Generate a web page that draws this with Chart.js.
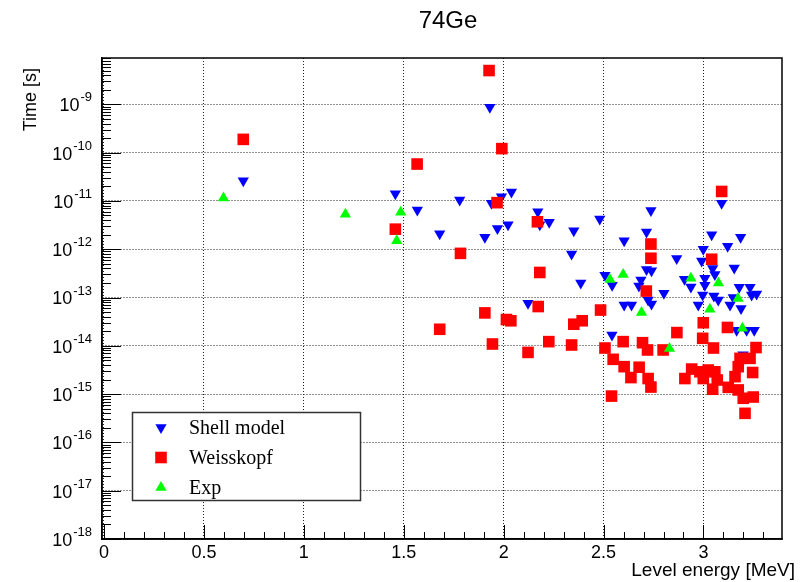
<!DOCTYPE html>
<html>
<head>
<meta charset="utf-8">
<script src="https://cdn.jsdelivr.net/npm/chart.js@4.4.0/dist/chart.umd.min.js"></script>
<style>
  html, body { margin: 0; padding: 0; background: #fff; }
  #wrap { width: 806px; height: 582px; }
</style>
</head>
<body>
<div id="wrap"><canvas id="chart" width="806" height="582"></canvas></div>
<script>
// --- data ---
const titleText = "74Ge";
const xTitle = "Level energy [MeV]";
const yTitle = "Time [s]";

const xTickValues = [0, 0.5, 1, 1.5, 2, 2.5, 3];
const xTickLabels = ["0", "0.5", "1", "1.5", "2", "2.5", "3"];
const yTickValues = [1e-18, 1e-17, 1e-16, 1e-15, 1e-14, 1e-13, 1e-12, 1e-11, 1e-10, 1e-9];
const yTickExps = ["-18", "-17", "-16", "-15", "-14", "-13", "-12", "-11", "-10", "-9"];

const seriesNames = ["Shell model", "Weisskopf", "Exp"];

const shellX = [0.697, 1.458, 1.568, 1.680, 1.931, 1.780, 1.906, 1.939, 1.989, 2.039, 1.969, 2.022, 2.171, 2.181, 2.228, 2.351,
  2.340, 2.122, 2.386, 2.481, 2.507, 2.542, 2.737, 2.715, 2.603, 2.866, 2.543, 2.715, 2.740, 2.687, 2.677, 2.802,
  2.723, 2.740, 2.603, 2.640, 2.905, 2.937, 3.091, 3.041, 3.186, 3.121, 2.999, 2.991, 3.046, 3.154, 3.057, 3.007,
  3.007, 2.996, 2.974, 3.052, 3.074, 3.133, 3.179, 3.149, 3.188, 3.233, 3.241, 3.266, 3.166, 3.216, 3.254, 3.198];
const shellY = [2.6e-11, 1.4e-11, 6.5e-12, 2.1e-12, 8.7e-10, 1.04e-11, 1.76e-12, 8.9e-12, 1.22e-11, 1.53e-11, 2.7e-12, 3.2e-12, 6.0e-12, 3.2e-12, 3.6e-12, 2.4e-12,
  8.0e-13, 7.6e-14, 2.0e-13, 4.2e-12, 2.9e-13, 1.67e-14, 6.3e-12, 2.27e-12, 1.5e-12, 6.4e-13, 1.8e-13, 3.8e-13, 3.6e-13, 2.3e-13, 1.73e-13, 1.22e-13,
  8.9e-14, 7.3e-14, 7.0e-14, 7.0e-14, 2.4e-13, 1.65e-13, 9.0e-12, 2.0e-12, 1.76e-12, 1.15e-12, 1.0e-12, 5.7e-13, 4.0e-13, 4.1e-13, 3.0e-13, 2.5e-13,
  1.8e-13, 1.13e-13, 7.0e-14, 1.07e-13, 8.9e-14, 7.0e-14, 1.63e-13, 1.0e-13, 5.9e-14, 1.63e-13, 1.13e-13, 1.18e-13, 2.1e-14, 2.1e-14, 2.1e-14, 6.5e-15];

const weissX = [0.697, 1.567, 1.458, 1.680, 1.927, 1.991, 1.967, 2.169, 1.784, 2.181, 1.906, 2.173, 2.014, 2.036, 1.944, 2.122,
  2.226, 2.340, 2.351, 2.393, 2.485, 2.507, 2.737, 2.737, 2.714, 2.867, 2.598, 2.695, 2.720, 2.798, 2.548, 2.603,
  2.678, 2.637, 2.723, 2.737, 2.540, 2.941, 2.907, 3.091, 3.041, 2.999, 3.120, 2.996, 3.050, 3.263, 3.233, 3.183,
  3.174, 3.158, 3.246, 3.124, 3.174, 3.199, 3.249, 3.208, 2.982, 3.024, 3.057, 2.999, 3.069, 3.046];
const weissY = [1.88e-10, 5.8e-11, 2.6e-12, 2.2e-14, 5.0e-9, 1.21e-10, 9.2e-12, 3.7e-12, 8.2e-13, 3.3e-13, 4.8e-14, 6.5e-14, 3.5e-14, 3.3e-14, 1.09e-14, 7.3e-15,
  1.22e-14, 1.04e-14, 2.8e-14, 3.3e-14, 5.5e-14, 9.0e-15, 1.28e-12, 6.5e-13, 1.36e-13, 1.88e-14, 1.22e-14, 1.16e-14, 8.2e-15, 8.2e-15, 5.25e-15, 3.7e-15,
  3.6e-15, 2.2e-15, 2.1e-15, 1.4e-15, 9.1e-16, 3.3e-15, 2.1e-15, 1.57e-11, 6.2e-13, 3.0e-14, 2.4e-14, 1.43e-14, 9.0e-15, 9.2e-15, 5.5e-15, 5.5e-15,
  3.7e-15, 2.3e-15, 2.8e-15, 1.38e-15, 1.22e-15, 8.2e-16, 8.7e-16, 4.0e-16, 2.9e-15, 3.15e-15, 2.9e-15, 2.1e-15, 1.96e-15, 1.26e-15];

const expX = [0.598, 1.208, 1.485, 1.465, 2.532, 2.598, 2.690, 2.830, 2.937, 3.075, 3.032, 3.173, 3.195];
const expY = [1.15e-11, 5.3e-12, 5.8e-12, 1.5e-12, 2.36e-13, 3.0e-13, 4.9e-14, 8.8e-15, 2.5e-13, 2.0e-13, 5.7e-14, 9.5e-14, 2.3e-14];

const toPoints = (xs, ys) => xs.map((x, i) => ({ x: x, y: ys[i] }));

const sansFont = '"Liberation Sans", Arial, Helvetica, sans-serif';
const serifFont = '"Liberation Serif", "Times New Roman", serif';

// draw a marker the same way chart.js does (rect / triangle)
function drawMarker(ctx, ds, x, y) {
  ctx.save();
  ctx.fillStyle = ds.backgroundColor;
  ctx.beginPath();
  const r = ds.pointRadius;
  if (ds.pointStyle === "rect") {
    const s = r * Math.SQRT1_2;
    ctx.rect(x - s, y - s, 2 * s, 2 * s);
  } else {
    const rot = (ds.rotation || 0) * Math.PI / 180;
    for (let i = 0; i < 3; i++) {
      const a = rot + i * 2 * Math.PI / 3;
      const px = x + Math.sin(a) * r;
      const py = y - Math.cos(a) * r;
      if (i === 0) ctx.moveTo(px, py); else ctx.lineTo(px, py);
    }
    ctx.closePath();
  }
  ctx.fill();
  ctx.restore();
}

// frame, inside ticks (ROOT style), axis labels and titles
const rootAxes = {
  id: "rootAxes",
  beforeDatasetsDraw(chart) {
    const { ctx, chartArea: a, scales } = chart;
    const xs = scales.x, ys = scales.y;
    ctx.save();

    // frame
    ctx.strokeStyle = "#000";
    ctx.lineWidth = 1.5;
    ctx.strokeRect(a.left, a.top, a.right - a.left, a.bottom - a.top);

    // x ticks: major every 0.5, minor every 0.1
    ctx.lineWidth = 1;
    ctx.beginPath();
    for (let k = 0; k <= 34; k++) {
      const v = k / 10;
      if (v > xs.max) break;
      const px = Math.round(xs.getPixelForValue(v)) + 0.5;
      const len = (k % 5 === 0) ? 14 : 7;
      ctx.moveTo(px, a.bottom);
      ctx.lineTo(px, a.bottom - len);
    }
    // y ticks: decades + 2..9
    for (let d = -18; d <= -9; d++) {
      for (let m = 1; m <= 9; m++) {
        const v = m * Math.pow(10, d);
        if (v > ys.max) break;
        const py = Math.round(ys.getPixelForValue(v)) + 0.5;
        const len = (m === 1) ? 19 : 9;
        ctx.moveTo(a.left, py);
        ctx.lineTo(a.left + len, py);
      }
    }
    ctx.stroke();

    // x tick labels
    ctx.fillStyle = "#000";
    ctx.font = "18px " + sansFont;
    ctx.textAlign = "center";
    ctx.textBaseline = "top";
    xTickValues.forEach((v, i) => {
      ctx.fillText(xTickLabels[i], xs.getPixelForValue(v), a.bottom + 5);
    });

    // y tick labels: 10^exp
    const rightEdge = a.left - 10;
    yTickValues.forEach((v, i) => {
      const py = ys.getPixelForValue(v);
      ctx.font = "13px " + sansFont;
      const ew = ctx.measureText(yTickExps[i]).width;
      ctx.textAlign = "left";
      ctx.textBaseline = "alphabetic";
      ctx.fillText(yTickExps[i], rightEdge - ew, py - 3);
      ctx.font = "18px " + sansFont;
      ctx.textAlign = "right";
      ctx.textBaseline = "middle";
      ctx.fillText("10", rightEdge - ew - 1, py + 2);
    });

    // titles
    ctx.font = "24px " + sansFont;
    ctx.textAlign = "center";
    ctx.textBaseline = "middle";
    ctx.fillText(titleText, 448, 21);

    ctx.font = "19px " + sansFont;
    ctx.textAlign = "right";
    ctx.textBaseline = "middle";
    ctx.fillText(xTitle, 795, 571);

    ctx.save();
    ctx.translate(31, 68);
    ctx.rotate(-Math.PI / 2);
    ctx.textAlign = "right";
    ctx.font = "18px " + sansFont;
    ctx.fillText(yTitle, 0, 0);
    ctx.restore();

    ctx.restore();
  }
};

// legend box in the lower left
const rootLegend = {
  id: "rootLegend",
  afterDatasetsDraw(chart) {
    const ctx = chart.ctx;
    const box = { x: 132.5, y: 412.5, w: 228, h: 88 };
    ctx.save();
    ctx.fillStyle = "#fff";
    ctx.fillRect(box.x, box.y, box.w, box.h);
    ctx.strokeStyle = "#333";
    ctx.lineWidth = 1.5;
    ctx.strokeRect(box.x, box.y, box.w, box.h);

    ctx.font = "20px " + serifFont;
    ctx.fillStyle = "#000";
    ctx.textAlign = "left";
    ctx.textBaseline = "middle";
    chart.data.datasets.forEach((ds, i) => {
      const cy = box.y + 15 + i * 30;
      drawMarker(ctx, ds, 161, cy);
      ctx.fillStyle = "#000";
      ctx.fillText(ds.label, 189, cy + 1);
    });
    ctx.restore();
  }
};

new Chart(document.getElementById("chart"), {
  type: "scatter",
  data: {
    datasets: [
      {
        label: seriesNames[0],
        data: toPoints(shellX, shellY),
        pointStyle: "triangle",
        rotation: 180,
        pointRadius: 6.5,
        backgroundColor: "#0000ff",
        borderColor: "#0000ff",
        pointBorderWidth: 0,
        order: 3
      },
      {
        label: seriesNames[1],
        data: toPoints(weissX, weissY),
        pointStyle: "rect",
        pointRadius: 8.2,
        backgroundColor: "#ff0000",
        borderColor: "#ff0000",
        pointBorderWidth: 0,
        order: 2
      },
      {
        label: seriesNames[2],
        data: toPoints(expX, expY),
        pointStyle: "triangle",
        rotation: 0,
        pointRadius: 6.5,
        backgroundColor: "#00ff00",
        borderColor: "#00ff00",
        pointBorderWidth: 0,
        order: 1
      }
    ]
  },
  options: {
    responsive: false,
    animation: false,
    layout: { padding: { left: 102, right: 24, top: 58, bottom: 43 } },
    plugins: {
      legend: { display: false },
      tooltip: { enabled: false },
      title: { display: false }
    },
    scales: {
      x: {
        type: "linear",
        min: -0.01,
        max: 3.393,
        afterBuildTicks: (scale) => { scale.ticks = xTickValues.map(v => ({ value: v })); },
        ticks: { display: false },
        grid: { color: "#222", lineWidth: 1, drawTicks: false },
        border: { display: true, color: "#000", width: 1.5, dash: [1, 2] }
      },
      y: {
        type: "logarithmic",
        min: 1e-18,
        max: 9.1e-9,
        afterBuildTicks: (scale) => { scale.ticks = yTickValues.map(v => ({ value: v })); },
        ticks: { display: false },
        grid: { color: "#222", lineWidth: 1, drawTicks: false },
        border: { display: true, color: "#000", width: 1.5, dash: [1, 2] }
      }
    }
  },
  plugins: [rootAxes, rootLegend]
});
</script>
</body>
</html>
